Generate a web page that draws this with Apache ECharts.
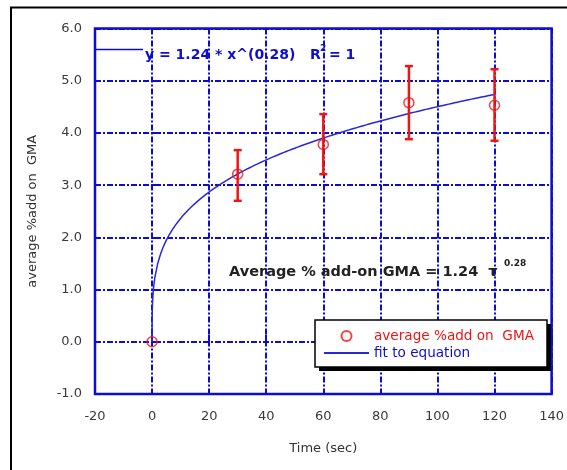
<!DOCTYPE html>
<html>
<head>
<meta charset="utf-8">
<script src="https://cdn.jsdelivr.net/npm/echarts@6/dist/echarts.min.js"></script>
<style>
  html, body { margin: 0; padding: 0; background: #ffffff; }
  #chart { width: 567px; height: 470px; }
</style>
</head>
<body>
<div id="chart"></div>
<script>
// Measured averages with error ranges (time in seconds)
const timeSec   = [0, 30, 60, 90, 120];
const avgAddOn  = [0.00, 3.21, 3.78, 4.58, 4.53];
const errLow    = [0.00, 2.70, 3.21, 3.88, 3.85];
const errHigh   = [0.00, 3.67, 4.36, 5.28, 5.22];

// Power-law fit y = a * t^b, as stated on the chart
const fitCoef = 1.24;
const fitExp  = 0.28;
const fitStart = 0;
const fitEnd   = 120;

const xTicks = [-20, 0, 20, 40, 60, 80, 100, 120, 140];
const yTicks = [-1, 0, 1, 2, 3, 4, 5, 6];

const BLUE = '#0c0cd6';
const RED  = '#f01414';
const FONT = 'DejaVu Sans';

// Sample the fitted curve densely near t = 0 where it rises steeply
const fitSamples = [];
const fineSteps = [0, 0.002, 0.01, 0.03, 0.06, 0.1, 0.2, 0.35, 0.5, 0.75];
fineSteps.forEach(t => fitSamples.push(t));
for (let t = 1; t <= fitEnd; t += 1) fitSamples.push(t);
const fitData = fitSamples
  .filter(t => t >= fitStart && t <= fitEnd)
  .map(t => [t, fitCoef * Math.pow(t, fitExp)]);

const pointData = timeSec.map((t, i) => [t, avgAddOn[i]]);
const errData = timeSec
  .map((t, i) => [t, errLow[i], errHigh[i]])
  .filter(d => d[2] > d[1]);

// legend box geometry
const LEG = { x: 315, y: 320, w: 232, h: 47 };

const chart = echarts.init(document.getElementById('chart'), null, { renderer: 'canvas' });

chart.setOption({
  backgroundColor: '#ffffff',
  animation: false,
  grid: {
    left: 95, right: 12, top: 28.5, bottom: 76,
    show: true, borderColor: BLUE, borderWidth: 2.5, backgroundColor: 'transparent'
  },
  xAxis: {
    type: 'value',
    min: xTicks[0], max: xTicks[xTicks.length - 1], interval: 20,
    name: 'Time (sec)', nameLocation: 'middle', nameGap: 48,
    nameTextStyle: { fontFamily: FONT, fontSize: 13, color: '#333333' },
    axisLine: { show: false },
    axisTick: { show: true, inside: true, length: 7, lineStyle: { color: BLUE, width: 2 } },
    axisLabel: { margin: 16, fontFamily: FONT, fontSize: 13, color: '#3a3a3a' },
    splitLine: { show: true, lineStyle: { color: BLUE, width: 2, type: [6, 2, 2, 2] } }
  },
  yAxis: {
    type: 'value',
    min: yTicks[0], max: yTicks[yTicks.length - 1], interval: 1,
    name: 'average %add on  GMA', nameLocation: 'middle', nameGap: 56, nameRotate: 90,
    nameTextStyle: { fontFamily: FONT, fontSize: 13, color: '#333333' },
    axisLine: { show: false },
    axisTick: { show: true, inside: true, length: 7, lineStyle: { color: BLUE, width: 2 } },
    axisLabel: { margin: 13, fontFamily: FONT, fontSize: 13, color: '#3a3a3a',
      formatter: v => v.toFixed(1) },
    splitLine: { show: true, lineStyle: { color: BLUE, width: 2, type: [6, 2, 2, 2] } }
  },
  legend: {
    orient: 'vertical',
    left: LEG.x, top: LEG.y,
    padding: [9, 10, 8, 9],
    itemWidth: 45, itemHeight: 10, itemGap: 3,
    backgroundColor: 'transparent',
    borderWidth: 0,
    selectedMode: false,
    z: 20,
    textStyle: { fontFamily: FONT, fontSize: 13.6 },
    data: [
      { name: 'average %add on  GMA', textStyle: { color: RED } },
      { name: 'fit to equation', icon: 'path://M0 0H45V2H0Z', textStyle: { color: BLUE } }
    ]
  },
  graphic: [
    // page frame
    { type: 'rect', silent: true, z: 0,
      shape: { x: 11, y: 7.5, width: 620, height: 520 },
      style: { fill: 'none', stroke: '#000000', lineWidth: 2 } },
    // legend box with drop shadow
    { type: 'rect', silent: true, z: 10,
      shape: { x: LEG.x + 4, y: LEG.y + 4, width: LEG.w, height: LEG.h },
      style: { fill: '#000000' } },
    { type: 'rect', silent: true, z: 11,
      shape: { x: LEG.x, y: LEG.y, width: LEG.w, height: LEG.h },
      style: { fill: '#ffffff', stroke: '#000000', lineWidth: 1.5 } },
    // equation key in the upper left
    { type: 'line', z: 50,
      shape: { x1: 96, y1: 49.5, x2: 143, y2: 49.5 },
      style: { stroke: BLUE, lineWidth: 1.5 } },
    { type: 'text', z: 50, left: 145, top: 48,
      style: { text: 'y = 1.24 * x^(0.28)   R', fill: BLUE,
        font: 'bold 14px "DejaVu Sans"' } },
    { type: 'text', z: 50, left: 320, top: 44,
      style: { text: '2', fill: BLUE, font: 'bold 9px "DejaVu Sans"' } },
    { type: 'text', z: 50, left: 329, top: 48,
      style: { text: '= 1', fill: BLUE, font: 'bold 14px "DejaVu Sans"' } },
    // fitted formula annotation
    { type: 'text', z: 50, left: 229, top: 265,
      style: { text: 'Average % add-on GMA = 1.24  τ', fill: '#222222',
        font: 'bold 14.5px "DejaVu Sans"' } },
    { type: 'text', z: 50, left: 504, top: 259,
      style: { text: '0.28', fill: '#222222', font: 'bold 9px "DejaVu Sans"' } }
  ],
  series: [
    {
      name: 'fit to equation',
      type: 'line',
      data: fitData,
      symbol: 'none',
      smooth: false,
      z: 3,
      lineStyle: { color: '#2828d8', width: 1.5 },
      itemStyle: { color: '#2828d8' }
    },
    {
      name: 'error',
      type: 'custom',
      z: 4,
      data: errData,
      renderItem: function (params, api) {
        const x = api.value(0);
        const top = api.coord([x, api.value(2)]);
        const bot = api.coord([x, api.value(1)]);
        const cap = 4;
        const style = { stroke: RED, lineWidth: 2.5 };
        return {
          type: 'group',
          children: [
            { type: 'line', shape: { x1: top[0], y1: top[1], x2: bot[0], y2: bot[1] }, style },
            { type: 'line', shape: { x1: top[0] - cap, y1: top[1], x2: top[0] + cap, y2: top[1] }, style },
            { type: 'line', shape: { x1: bot[0] - cap, y1: bot[1], x2: bot[0] + cap, y2: bot[1] }, style }
          ]
        };
      }
    },
    {
      name: 'average %add on  GMA',
      type: 'scatter',
      data: pointData,
      symbol: 'circle',
      symbolSize: 10,
      z: 5,
      itemStyle: { color: 'rgba(0,0,0,0)', borderColor: RED, borderWidth: 1.5 }
    }
  ]
});
</script>
</body>
</html>
